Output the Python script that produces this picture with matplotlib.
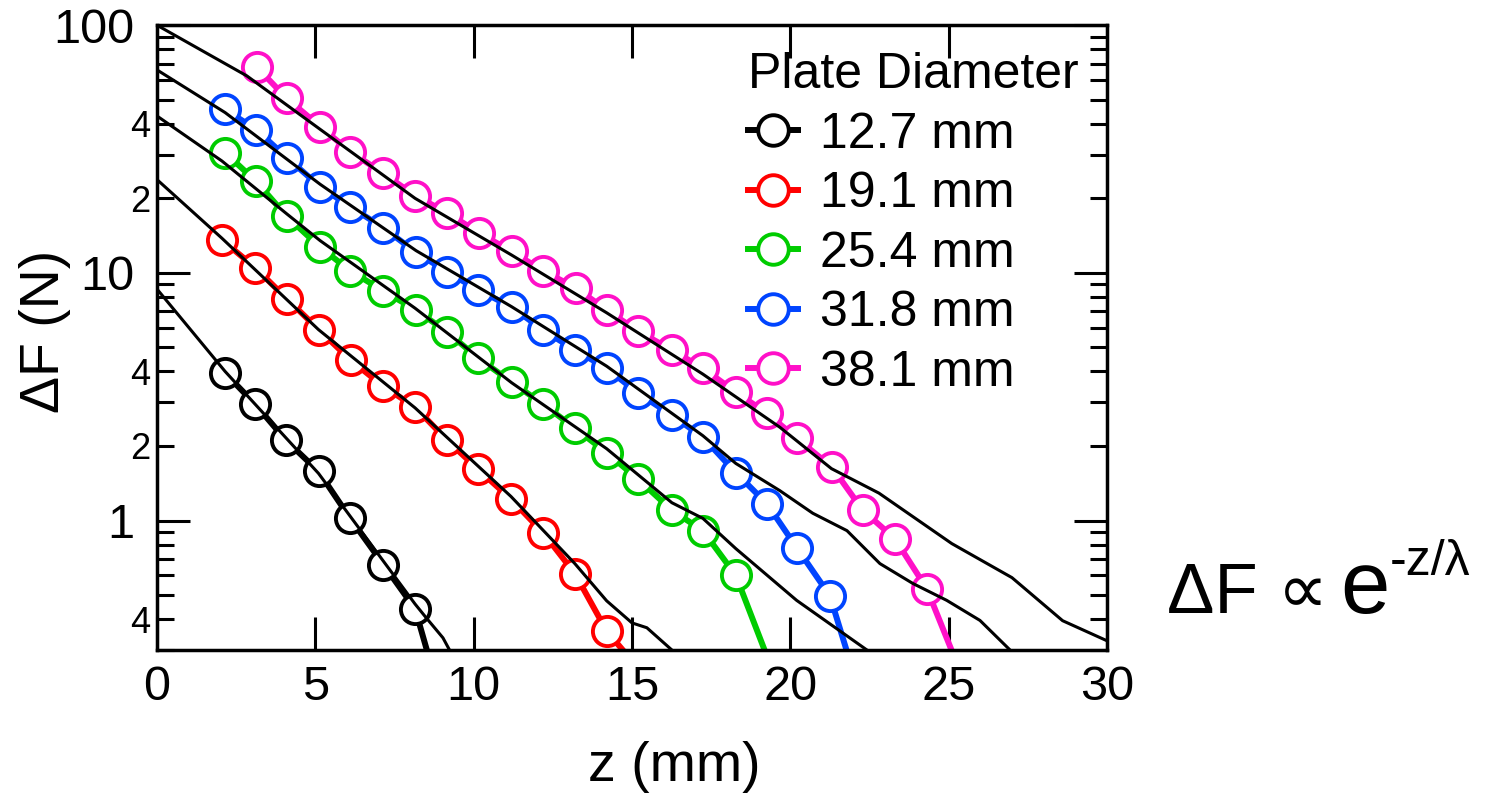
import numpy as np
import matplotlib
matplotlib.use('Agg')
import matplotlib.pyplot as plt
from matplotlib.lines import Line2D
from matplotlib.ticker import LogLocator, FuncFormatter, FixedLocator

plt.rcParams['font.family'] = ['Liberation Sans', 'DejaVu Sans']

# measured data (last point of each series is where the line runs off the bottom)
labels = ['12.7 mm', '19.1 mm', '25.4 mm', '31.8 mm', '38.1 mm']
colors = ['#000000', '#ff0000', '#00cc00', '#0044ff', '#ff10c8']

z_127 = [2.15, 3.1, 4.07, 5.1, 6.1, 7.15, 8.15, 8.62]
f_127 = [3.94, 2.95, 2.11, 1.58, 1.02, 0.664, 0.44, 0.271]

z_191 = [2.05, 3.1, 4.1, 5.12, 6.12, 7.14, 8.15, 9.16, 10.14, 11.18, 12.19, 13.2, 14.2, 14.97]
f_191 = [13.6, 10.5, 7.86, 5.88, 4.44, 3.49, 2.87, 2.11, 1.61, 1.22, 0.894, 0.61, 0.358, 0.274]

z_254 = [2.15, 3.13, 4.1, 5.15, 6.1, 7.15, 8.18, 9.16, 10.14, 11.2, 12.19, 13.2, 14.2,
         15.19, 16.26, 17.24, 18.28, 19.32]
f_254 = [30.6, 23.4, 16.9, 12.7, 10.2, 8.45, 7.08, 5.77, 4.53, 3.62, 2.95, 2.36, 1.88,
         1.47, 1.10, 0.91, 0.60, 0.271]

z_318 = [2.15, 3.13, 4.1, 5.15, 6.1, 7.15, 8.18, 9.16, 10.14, 11.2, 12.19, 13.2, 14.2,
         15.19, 16.26, 17.24, 18.28, 19.26, 20.2, 21.25, 21.88]
f_318 = [45.7, 37.9, 29.2, 22.3, 18.5, 15.2, 12.1, 10.1, 8.53, 7.28, 5.88, 4.88, 4.12,
         3.27, 2.66, 2.17, 1.56, 1.17, 0.778, 0.497, 0.271]

z_381 = [3.16, 4.1, 5.15, 6.1, 7.15, 8.15, 9.16, 10.17, 11.2, 12.19, 13.23, 14.2, 15.19,
         16.26, 17.24, 18.28, 19.26, 20.2, 21.32, 22.29, 23.3, 24.31, 25.23]
f_381 = [67.6, 50.6, 39.0, 30.9, 25.2, 20.5, 17.5, 14.5, 12.2, 10.2, 8.69, 7.08, 5.82,
         4.88, 4.12, 3.30, 2.71, 2.15, 1.64, 1.10, 0.845, 0.531, 0.271]

# exponential fits (thin black lines)
fit_z1 = [0, 2.15, 5.1, 8.15, 8.5, 9.03, 9.3]
fit_f1 = [8.6, 4.0, 1.55, 0.46, 0.405, 0.336, 0.29]
fit_z2 = [0, 2.05, 5.1, 8.15, 11.18, 13.2, 14.2, 15.0, 15.47, 16.26]
fit_f2 = [23.8, 13.8, 5.9, 2.85, 1.25, 0.669, 0.474, 0.386, 0.369, 0.3]
fit_z3 = [0, 2.05, 4.1, 5.15, 8.15, 11.2, 14.2, 16.26, 17.24, 18.28, 20.2, 22.42]
fit_f3 = [43, 28.3, 17.3, 13.5, 7.2, 3.6, 1.95, 1.18, 1.02, 0.77, 0.476, 0.3]
fit_z4 = [0, 2.15, 5.15, 8.18, 11.2, 14.2, 17.24, 18.28, 19.67, 20.71, 21.79, 22.83,
          23.87, 24.94, 25.99, 26.94]
fit_f4 = [66, 44.4, 22.8, 12.3, 7.3, 4.2, 2.2, 1.7, 1.32, 1.07, 0.91, 0.67,
          0.557, 0.476, 0.395, 0.3]
fit_z5 = [0, 2.84, 5.15, 8.15, 11.2, 14.2, 17.24, 19.67, 21.3, 22.8, 25.1, 27.0, 28.6, 30]
fit_f5 = [100, 62.4, 38, 20, 11.8, 6.9, 3.9, 2.38, 1.62, 1.29, 0.807, 0.588, 0.394, 0.327]

xticks = [0, 5, 10, 15, 20, 25, 30]

series = [(z_127, f_127), (z_191, f_191), (z_254, f_254), (z_318, f_318), (z_381, f_381)]
fits = [(fit_z1, fit_f1), (fit_z2, fit_f2), (fit_z3, fit_f3), (fit_z4, fit_f4), (fit_z5, fit_f5)]

fig = plt.figure(figsize=(15.04, 8.01), dpi=100)
ax = fig.add_axes([0.1044, 0.1885, 0.6316, 0.780])

for (zs, fs), c in zip(series, colors):
    ax.plot(zs, fs, color=c, lw=4.3, zorder=2, solid_capstyle='butt')
    ax.plot(zs[:-1], fs[:-1], 'o', ms=21, mfc='white', mec=c, mew=2.8, zorder=3)

for zs, fs in fits:
    ax.plot(zs, fs, color='black', lw=2.2, zorder=4)

ax.set_yscale('log')
ax.set_xlim(0, 30)
ax.set_ylim(0.3, 100)

ax.xaxis.set_major_locator(FixedLocator(xticks))
ax.yaxis.set_major_locator(LogLocator(base=10))
ax.yaxis.set_minor_locator(LogLocator(base=10, subs=range(2, 10), numticks=20))
ax.yaxis.set_major_formatter(FuncFormatter(lambda v, p: '%g' % v))


def minor_fmt(v, pos):
    d = int(round(v / 10 ** np.floor(np.log10(v))))
    if d in (2, 4):
        return str(d)
    return ''


ax.yaxis.set_minor_formatter(FuncFormatter(minor_fmt))

ax.tick_params(which='both', direction='in', top=True, right=True, width=2.2)
ax.tick_params(which='major', length=24, labelsize=35)
ax.tick_params(axis='x', pad=11)
ax.tick_params(axis='y', which='major', pad=16)
ax.tick_params(axis='y', which='minor', length=12, labelsize=26, pad=5)
for s in ax.spines.values():
    s.set_linewidth(2.5)

ax.set_xlabel('z (mm)', fontsize=40)
ax.xaxis.set_label_coords(0.545, -0.145)
ax.set_ylabel('ΔF (N)', fontsize=40, va='center')
ax.yaxis.set_label_coords(-0.118, 0.51)

handles = [Line2D([], [], color=c, lw=4.3, marker='o', ms=22, mfc='white', mec=c, mew=2.8)
           for c in colors]
ax.legend(handles, labels, title='Plate Diameter', loc='upper left',
          bbox_to_anchor=(0.609, 0.976), frameon=False, fontsize=36, title_fontsize=36,
          handlelength=1.0, handletextpad=0.45, labelspacing=0.27, borderpad=0.24,
          borderaxespad=0, alignment='left')

t1 = fig.text(1167 / 1504, 1 - 613 / 801, 'ΔF ∝', fontsize=51, va='baseline', ha='left')
t2 = ax.annotate('e', xy=(1.0, 1 - 613 / 801), xycoords=(t1, 'figure fraction'),
                 xytext=(9, 0), textcoords='offset points',
                 fontsize=64, va='baseline', ha='left')
ax.annotate('-z/λ', xy=(1.0, 1 - 575 / 801), xycoords=(t2, 'figure fraction'),
            fontsize=36, va='baseline', ha='left')

fig.savefig('out.png', dpi=100)
